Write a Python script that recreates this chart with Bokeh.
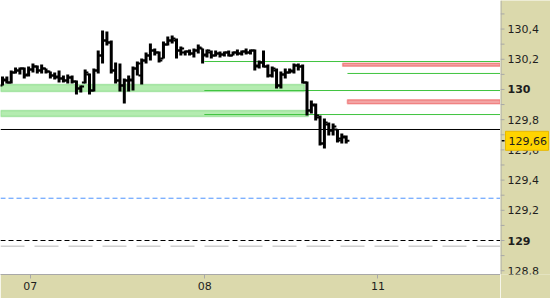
from bokeh.plotting import figure
from bokeh.layouts import row
from bokeh.models import Range1d, FixedTicker, CustomJSTickFormatter, Span, BoxAnnotation
from bokeh.core.properties import value
from bokeh.embed import file_html
from bokeh.resources import INLINE

# ---------------- data ----------------
bar_index = list(range(80))
opens = [130.026, 130.060, 130.046, 130.113, 130.126, 130.139, 130.099, 130.132, 130.152, 130.126,
         130.139, 130.119, 130.093, 130.086, 130.073, 130.060, 130.079, 130.053, 130.007, 130.046,
         130.099, 129.993, 130.126, 130.225, 130.325, 130.311, 130.126, 130.060, 130.026, 130.060,
         130.060, 130.139, 130.093, 130.192, 130.225, 130.258, 130.245, 130.205, 130.298, 130.325,
         130.325, 130.258, 130.245, 130.252, 130.238, 130.258, 130.272, 130.232, 130.245, 130.225,
         130.238, 130.232, 130.245, 130.225, 130.245, 130.238, 130.252, 130.245, 130.258, 130.159,
         130.179, 130.152, 130.093, 130.126, 130.026, 130.099, 130.113, 130.119, 130.159, 130.152,
         130.046, 129.861, 129.894, 129.815, 129.642, 129.768, 129.728, 129.735, 129.675, 129.682]
highs = [130.086, 130.086, 130.126, 130.146, 130.146, 130.146, 130.152, 130.172, 130.159, 130.166,
         130.139, 130.119, 130.113, 130.126, 130.093, 130.099, 130.093, 130.060, 130.026, 130.132,
         130.106, 130.139, 130.258, 130.391, 130.384, 130.325, 130.179, 130.172, 130.073, 130.093,
         130.152, 130.185, 130.205, 130.245, 130.305, 130.272, 130.252, 130.318, 130.351, 130.358,
         130.338, 130.285, 130.258, 130.265, 130.272, 130.298, 130.272, 130.265, 130.258, 130.258,
         130.252, 130.252, 130.258, 130.252, 130.265, 130.258, 130.272, 130.265, 130.265, 130.192,
         130.258, 130.166, 130.152, 130.139, 130.119, 130.139, 130.139, 130.172, 130.172, 130.166,
         130.053, 129.927, 129.907, 129.828, 129.808, 129.781, 129.775, 129.735, 129.709, 129.695]
lows = [130.026, 130.040, 130.040, 130.106, 130.099, 130.073, 130.086, 130.113, 130.106, 130.106,
        130.106, 130.073, 130.066, 130.046, 130.046, 130.040, 130.040, 129.967, 129.980, 130.040,
        129.967, 129.987, 130.106, 130.172, 130.291, 130.106, 130.040, 129.987, 129.907, 129.987,
        129.993, 130.093, 130.033, 130.172, 130.192, 130.225, 130.179, 130.205, 130.291, 130.305,
        130.205, 130.225, 130.225, 130.225, 130.212, 130.238, 130.172, 130.212, 130.205, 130.219,
        130.212, 130.219, 130.219, 130.225, 130.225, 130.225, 130.232, 130.232, 130.126, 130.139,
        130.146, 130.079, 130.079, 130.007, 130.007, 130.073, 130.106, 130.106, 130.126, 130.040,
        129.828, 129.841, 129.795, 129.629, 129.609, 129.695, 129.695, 129.649, 129.642, 129.642]
closes = [130.066, 130.046, 130.113, 130.126, 130.139, 130.093, 130.132, 130.152, 130.126, 130.139,
          130.119, 130.093, 130.079, 130.073, 130.060, 130.079, 130.053, 130.007, 130.020, 130.113,
          129.993, 130.126, 130.225, 130.325, 130.311, 130.126, 130.060, 130.026, 130.060, 130.066,
          130.139, 130.172, 130.192, 130.225, 130.258, 130.245, 130.192, 130.298, 130.325, 130.338,
          130.258, 130.272, 130.252, 130.238, 130.258, 130.278, 130.225, 130.258, 130.225, 130.238,
          130.232, 130.245, 130.225, 130.245, 130.238, 130.252, 130.245, 130.258, 130.152, 130.179,
          130.152, 130.093, 130.139, 130.026, 130.099, 130.113, 130.126, 130.159, 130.152, 130.046,
          129.861, 129.901, 129.828, 129.642, 129.781, 129.728, 129.755, 129.662, 129.689, 129.660]

day_positions = [6.4, 46.5, 86.3]
day_labels = ["07", "08", "11"]

price_ticks = [128.8, 129.2, 129.4, 129.6, 129.8, 130.2, 130.4]
price_labels = ["128,8", "129,2", "129,4", "129,6", "129,8", "130,2", "130,4"]
bold_ticks = [129.0, 130.0]
bold_labels = ["129", "130"]
price_minor = [128.9, 129.1, 129.3, 129.5, 129.7, 129.9, 130.1, 130.3, 130.5]
last_price = 129.66
last_price_text = "129,66"

green_zone_bottom = [129.987, 129.821]
green_zone_top = [130.033, 129.861]
green_zone_end = [69.4, 70.3]

green_line_level = [130.185, 130.106, 129.993, 129.834]
green_line_start = [46.4, 79.3, 46.4, 46.4]

red_zone_bottom = [130.154, 129.905]
red_zone_top = [130.174, 129.932]
red_zone_start = [78.2, 79.3]

ref_line_level = 129.735
blue_dash_level = 129.28
black_dash_level = 129.0
gray_dash_level = 128.962

# ---------------- layout ----------------
X_START, X_END = -0.46, 114.48
FONT = "DejaVu Sans"
BEIGE = "#dbd9ac"
GRAY = "#a8a8a8"
TXT = "#1e1e1e"
Y_RANGE = Range1d(128.775, 130.589)

p = figure(frame_width=500, frame_height=274, width=500, height=298,
           x_range=Range1d(X_START, X_END), y_range=Y_RANGE,
           y_axis_location=None, toolbar_location=None, output_backend="svg",
           min_border_left=0, min_border_top=0, min_border_right=0, min_border_bottom=24,
           border_fill_color=BEIGE, background_fill_color="white", outline_line_color=None)
p.xgrid.visible = False
p.ygrid.visible = False

p.xaxis.ticker = FixedTicker(ticks=day_positions, minor_ticks=[])
p.xaxis.formatter = CustomJSTickFormatter(args=dict(pos=day_positions, lab=day_labels), code="""
let b = 0;
for (let i = 0; i < pos.length; i++) { if (Math.abs(pos[i] - tick) < Math.abs(pos[b] - tick)) { b = i; } }
return lab[b];
""")
ax = p.xaxis[0]
ax.axis_line_color = GRAY
ax.major_tick_line_color = GRAY
ax.major_tick_in = 0
ax.major_tick_out = 4
ax.major_label_standoff = 3
ax.major_label_text_font = FONT
ax.major_label_text_font_size = "11px"
ax.major_label_text_color = TXT

# zones
for b, t, e in zip(green_zone_bottom, green_zone_top, green_zone_end):
    p.add_layout(BoxAnnotation(right=e, bottom=b, top=t, fill_color="#b4ecb0", fill_alpha=1.0,
                               line_color="#36c036", line_width=1.6, level="underlay"))
for b, t, s in zip(red_zone_bottom, red_zone_top, red_zone_start):
    p.add_layout(BoxAnnotation(left=s, bottom=b, top=t, fill_color="#f3a3a3", fill_alpha=1.0,
                               line_color="#e00000", line_width=1.6, level="underlay"))

# horizontal levels
p.add_layout(Span(location=gray_dash_level, dimension="width", line_color="#cfcfcf",
                  line_width=1.5, line_dash="24 10", level="underlay"))
p.add_layout(Span(location=blue_dash_level, dimension="width", line_color="#4d94ff",
                  line_width=1, line_dash="5 3", level="underlay"))
p.add_layout(Span(location=black_dash_level, dimension="width", line_color="black",
                  line_width=1, line_dash="5 3", level="underlay"))
p.add_layout(Span(location=ref_line_level, dimension="width", line_color="black",
                  line_width=1, level="underlay"))
p.segment(x0=green_line_start, y0=green_line_level, x1=[X_END] * len(green_line_level),
          y1=green_line_level, line_color="#3fc43f", line_width=1)

# OHLC bars
p.segment(x0=bar_index, y0=lows, x1=bar_index, y1=highs, line_color="black", line_width=3)
p.segment(x0=[i - 0.75 for i in bar_index], y0=opens, x1=bar_index, y1=opens,
          line_color="black", line_width=2)
p.segment(x0=bar_index, y0=closes, x1=[i + 0.75 for i in bar_index], y1=closes,
          line_color="black", line_width=2)

# ---------------- price scale panel (shares the y scale) ----------------
s = figure(frame_width=50, frame_height=274, width=50, height=298,
           x_range=Range1d(0, 50), y_range=Y_RANGE,
           toolbar_location=None, output_backend="svg",
           min_border_left=0, min_border_top=0, min_border_right=0, min_border_bottom=24,
           border_fill_color=BEIGE, background_fill_color=BEIGE, outline_line_color=None)
s.axis.visible = False
s.grid.visible = False
s.add_layout(Span(location=0.5, dimension="height", line_color=GRAY, line_width=1))
all_ticks = price_ticks + bold_ticks + price_minor
s.segment(x0=0, y0=all_ticks, x1=4, y1=all_ticks, line_color=GRAY, line_width=1)
s.text(x=7, y=price_ticks, text=price_labels, text_font=value(FONT), text_font_size="11px",
       text_color=TXT, text_baseline="middle", text_align="left")
s.text(x=7, y=bold_ticks, text=bold_labels, text_font=value(FONT), text_font_size="11px",
       text_font_style="bold", text_color=TXT, text_baseline="middle", text_align="left")
s.segment(x0=1, y0=[last_price], x1=4, y1=[last_price], line_color="black", line_width=1.5)
s.rect(x=26.5, y=[last_price], width=43, height=19, height_units="screen",
       fill_color="#ffd400", line_color="#e8b800", line_width=1)
s.text(x=8, y=[last_price], text=[last_price_text], text_font=value(FONT), text_font_size="11px",
       text_color=TXT, text_baseline="middle", text_align="left")

layout = row(p, s)
open("out.html", "w").write(file_html(layout, INLINE))
